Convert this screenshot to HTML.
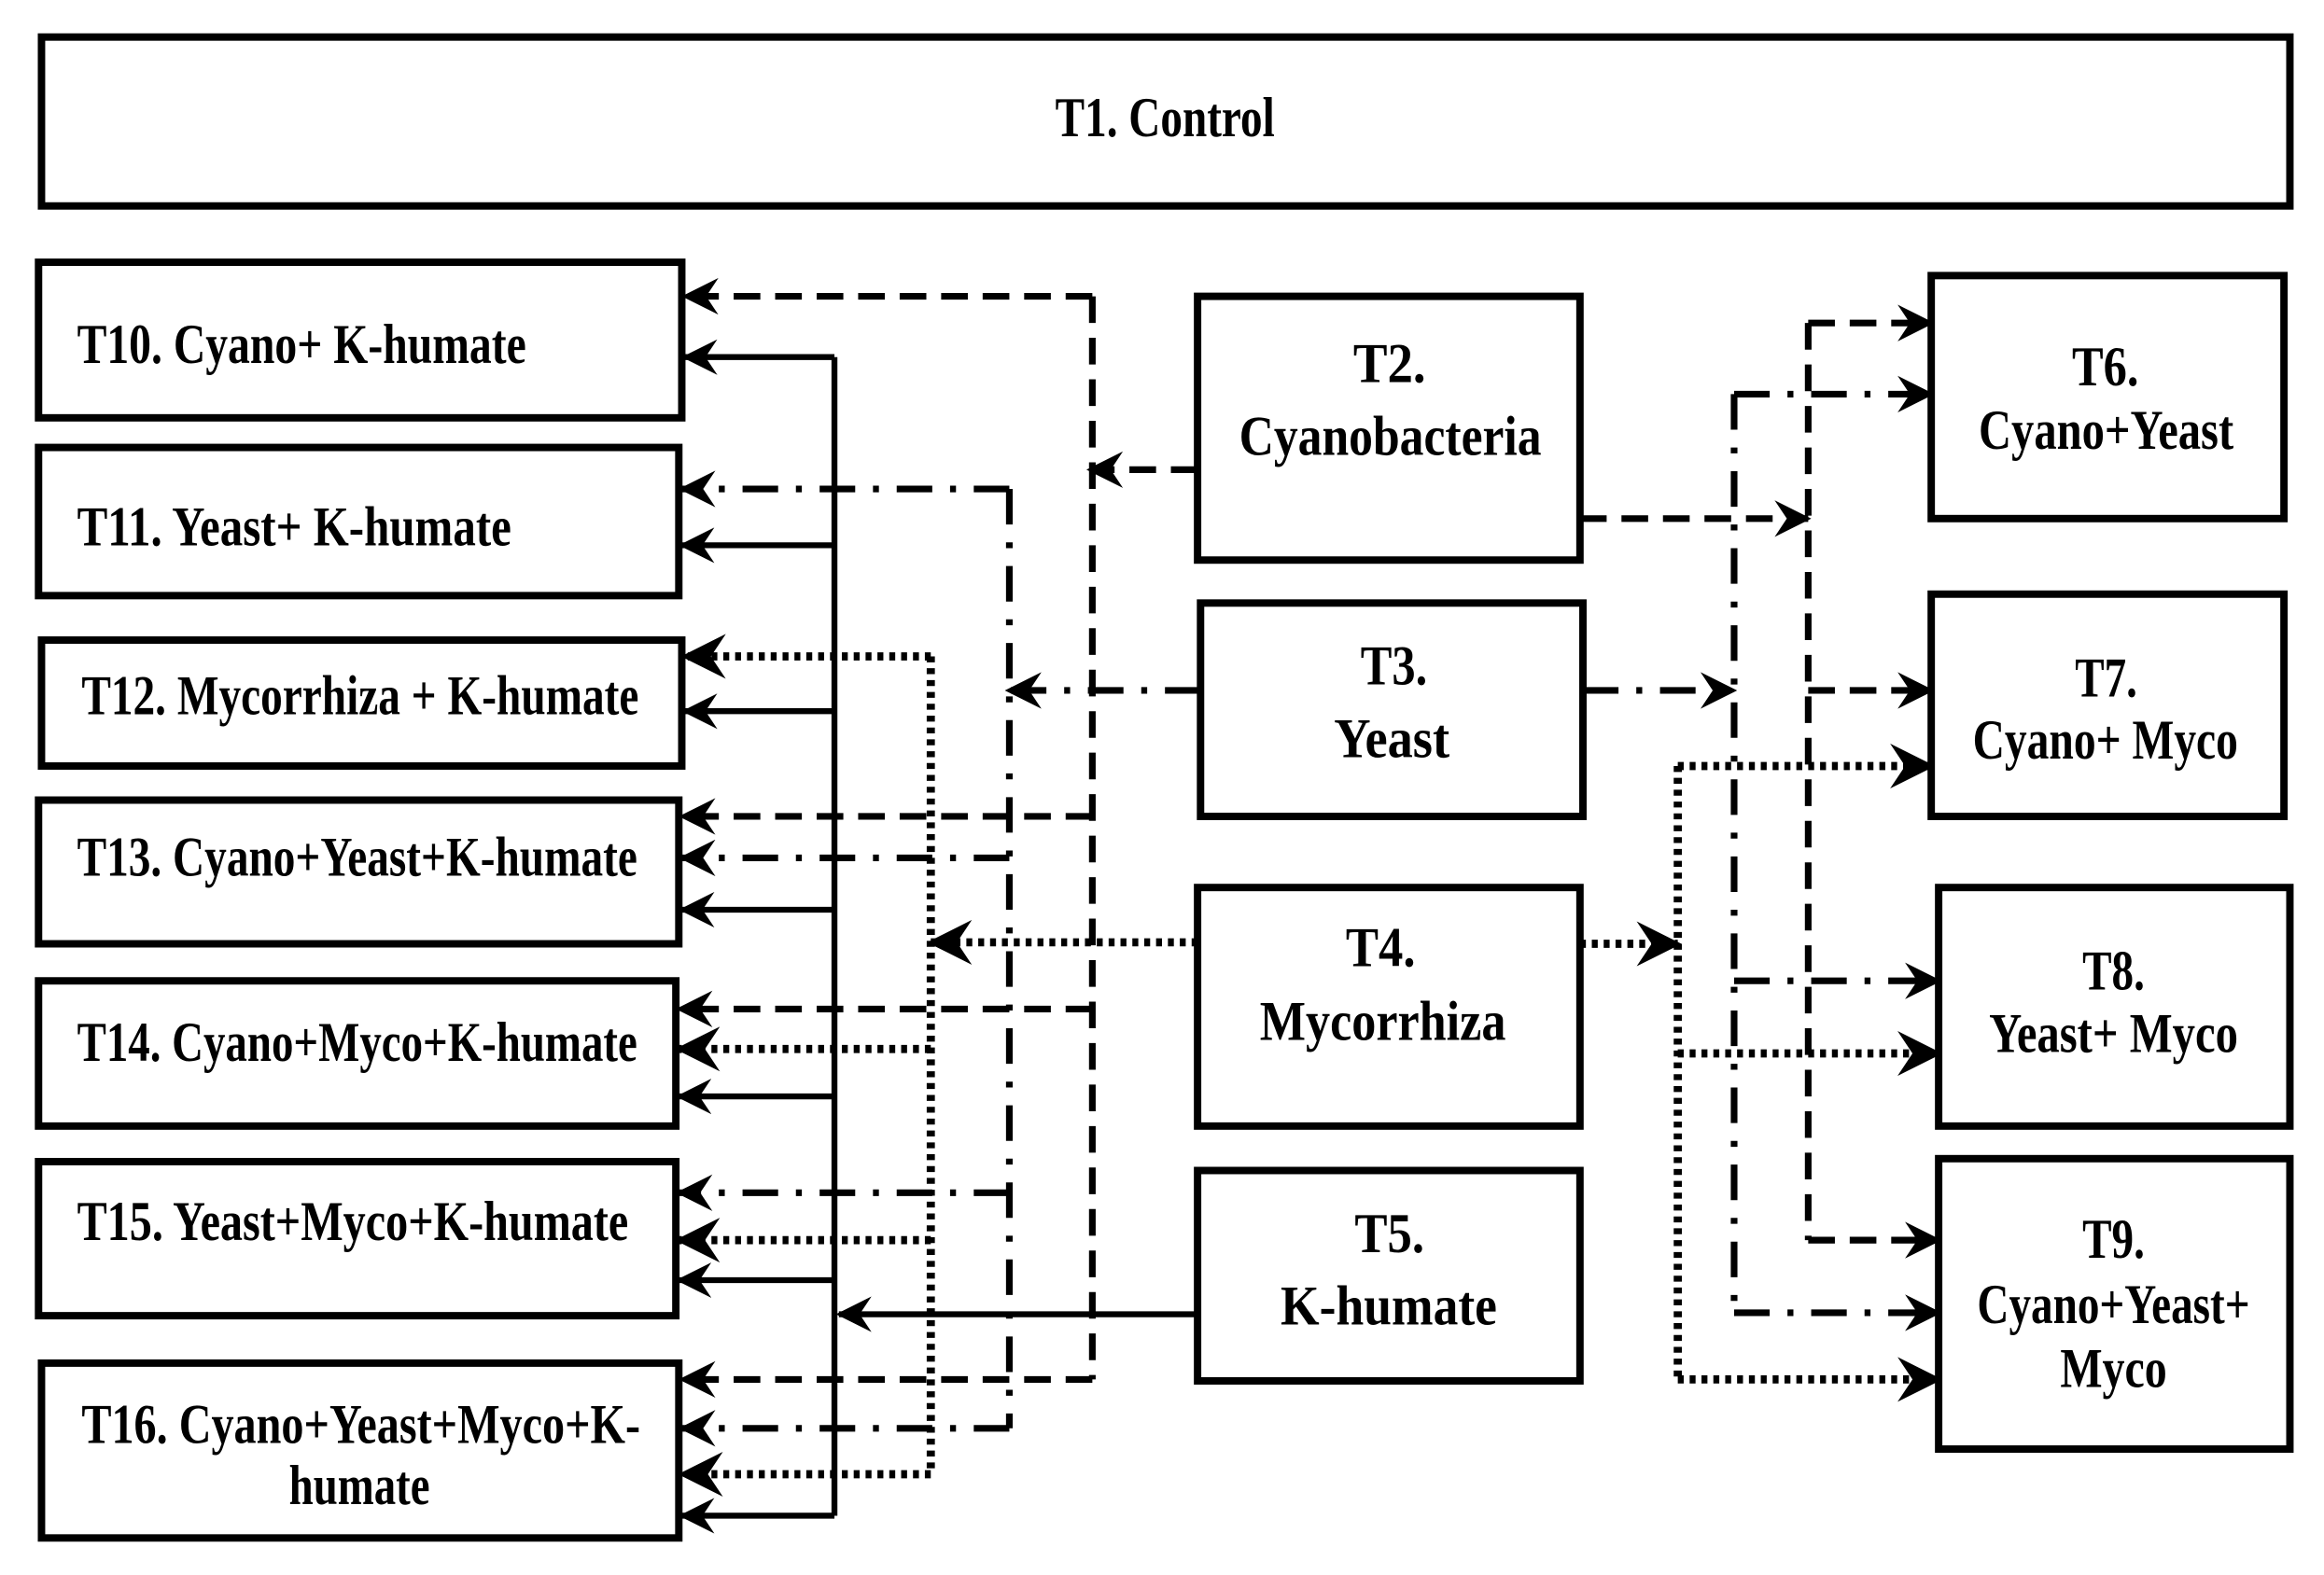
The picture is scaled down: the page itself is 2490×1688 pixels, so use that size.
<!DOCTYPE html>
<html><head><meta charset="utf-8"><style>
html,body{margin:0;padding:0;background:#fff}
svg{display:block}
text{font-family:"Liberation Serif",serif;font-weight:bold;font-size:38px;fill:#000}
</style></head><body>
<svg width="2490" height="1688" viewBox="0 0 1568 1063" preserveAspectRatio="none" xmlns="http://www.w3.org/2000/svg">
<defs>
<marker id="a" viewBox="0 0 12 12" refX="11" refY="6" markerWidth="6" markerHeight="6" markerUnits="strokeWidth" orient="auto">
<path d="M0,0 L12,6 L0,12 L4,6 Z" fill="#000"/></marker>
<marker id="b" viewBox="0 0 12 12" refX="11" refY="6" markerWidth="5.5" markerHeight="5.5" markerUnits="strokeWidth" orient="auto">
<path d="M0,0 L12,6 L0,12 L4,6 Z" fill="#000"/></marker>
</defs>
<g fill="#fff" stroke="#000" stroke-width="5">
<rect x="28" y="25" width="1517" height="114"/>
<rect x="26" y="177" width="434" height="105"/>
<rect x="26" y="302" width="432" height="100"/>
<rect x="28" y="432" width="432" height="85"/>
<rect x="26" y="540" width="432" height="97"/>
<rect x="26" y="662" width="430" height="98"/>
<rect x="26" y="784" width="430" height="104"/>
<rect x="28" y="920" width="430" height="118"/>
<rect x="808" y="200" width="258" height="178"/>
<rect x="810" y="407" width="258" height="144"/>
<rect x="808" y="599" width="258" height="161"/>
<rect x="808" y="790" width="258" height="142"/>
<rect x="1303" y="186" width="238" height="164"/>
<rect x="1303" y="401" width="238" height="150"/>
<rect x="1308" y="599" width="237" height="161"/>
<rect x="1308" y="782" width="237" height="196"/>
</g>
<g fill="none" stroke="#000" stroke-width="4">
<path d="M808,887 H566" marker-end="url(#a)"/>
<path d="M563,241 V1023"/>
<path d="M563,241 H462" marker-end="url(#a)"/><path d="M563,368 H460" marker-end="url(#a)"/><path d="M563,480 H462" marker-end="url(#a)"/><path d="M563,614 H460" marker-end="url(#a)"/><path d="M563,740 H458" marker-end="url(#a)"/><path d="M563,864 H458" marker-end="url(#a)"/><path d="M563,1023 H460" marker-end="url(#a)"/>
</g>
<g fill="none" stroke="#000" stroke-width="4.5" stroke-dasharray="18 10">
<path d="M808,317 H735" marker-end="url(#b)"/>
<path d="M737,200 V931"/>
<path d="M737,200 H462" marker-end="url(#b)"/><path d="M737,551 H460" marker-end="url(#b)"/><path d="M737,681 H458" marker-end="url(#b)"/><path d="M737,931 H460" marker-end="url(#b)"/>
<path d="M1066,350 H1220" marker-end="url(#b)"/>
<path d="M1220,218 V837"/>
<path d="M1220,218 H1303" marker-end="url(#b)"/><path d="M1220,466 H1303" marker-end="url(#b)"/><path d="M1220,837 H1308" marker-end="url(#b)"/>
</g>
<g fill="none" stroke="#000" stroke-width="4.5" stroke-dasharray="24 12 4 12">
<path d="M810,466 H680" marker-end="url(#b)"/>
<path d="M681,330 V964"/>
<path d="M681,330 H460" marker-end="url(#b)"/><path d="M681,579 H460" marker-end="url(#b)"/><path d="M681,805 H458" marker-end="url(#b)"/><path d="M681,964 H460" marker-end="url(#b)"/>
<path d="M1068,466 H1170" marker-end="url(#b)"/>
<path d="M1170,266 V886"/>
<path d="M1170,266 H1303" marker-end="url(#b)"/><path d="M1170,662 H1308" marker-end="url(#b)"/><path d="M1170,886 H1308" marker-end="url(#b)"/>
</g>
<g fill="none" stroke="#000" stroke-width="5.5" stroke-dasharray="4 4">
<path d="M808,636 H628" marker-end="url(#b)"/>
<path d="M628,443 V995"/>
<path d="M628,443 H462" marker-end="url(#b)"/><path d="M628,708 H458" marker-end="url(#b)"/><path d="M628,837 H458" marker-end="url(#b)"/><path d="M628,995 H460" marker-end="url(#b)"/>
<path d="M1066,637 H1132" marker-end="url(#b)"/>
<path d="M1132,517 V931"/>
<path d="M1132,517 H1303" marker-end="url(#b)"/><path d="M1132,711 H1308" marker-end="url(#b)"/><path d="M1132,931 H1308" marker-end="url(#b)"/>
</g>
<g>
<text x="712" y="92" textLength="148" lengthAdjust="spacingAndGlyphs">T1. Control</text>
<text x="52" y="245" textLength="303" lengthAdjust="spacingAndGlyphs">T10.  Cyano+ K-humate</text>
<text x="52" y="368" textLength="293" lengthAdjust="spacingAndGlyphs">T11.  Yeast+ K-humate</text>
<text x="55" y="482" textLength="376" lengthAdjust="spacingAndGlyphs">T12.  Mycorrhiza + K-humate</text>
<text x="52" y="591" textLength="378" lengthAdjust="spacingAndGlyphs">T13. Cyano+Yeast+K-humate</text>
<text x="52" y="716" textLength="378" lengthAdjust="spacingAndGlyphs">T14. Cyano+Myco+K-humate</text>
<text x="52" y="837" textLength="372" lengthAdjust="spacingAndGlyphs">T15. Yeast+Myco+K-humate</text>
<text x="55" y="974" textLength="377" lengthAdjust="spacingAndGlyphs">T16. Cyano+Yeast+Myco+K-</text>
<text x="195" y="1015" textLength="95" lengthAdjust="spacingAndGlyphs">humate</text>
<text x="913" y="258" textLength="49" lengthAdjust="spacingAndGlyphs">T2.</text>
<text x="836" y="307" textLength="204" lengthAdjust="spacingAndGlyphs">Cyanobacteria</text>
<text x="918" y="462" textLength="45" lengthAdjust="spacingAndGlyphs">T3.</text>
<text x="900" y="511" textLength="78" lengthAdjust="spacingAndGlyphs">Yeast</text>
<text x="908" y="652" textLength="47" lengthAdjust="spacingAndGlyphs">T4.</text>
<text x="850" y="702" textLength="166" lengthAdjust="spacingAndGlyphs">Mycorrhiza</text>
<text x="914" y="845" textLength="47" lengthAdjust="spacingAndGlyphs">T5.</text>
<text x="864" y="894" textLength="146" lengthAdjust="spacingAndGlyphs">K-humate</text>
<text x="1398" y="260" textLength="45" lengthAdjust="spacingAndGlyphs">T6.</text>
<text x="1335" y="303" textLength="172" lengthAdjust="spacingAndGlyphs">Cyano+Yeast</text>
<text x="1400" y="470" textLength="42" lengthAdjust="spacingAndGlyphs">T7.</text>
<text x="1331" y="512" textLength="179" lengthAdjust="spacingAndGlyphs">Cyano+ Myco</text>
<text x="1405" y="668" textLength="42" lengthAdjust="spacingAndGlyphs">T8.</text>
<text x="1342" y="710" textLength="168" lengthAdjust="spacingAndGlyphs">Yeast+ Myco</text>
<text x="1405" y="849" textLength="42" lengthAdjust="spacingAndGlyphs">T9.</text>
<text x="1334" y="893" textLength="184" lengthAdjust="spacingAndGlyphs">Cyano+Yeast+</text>
<text x="1390" y="936" textLength="72" lengthAdjust="spacingAndGlyphs">Myco</text>
</g>
</svg>
</body></html>
